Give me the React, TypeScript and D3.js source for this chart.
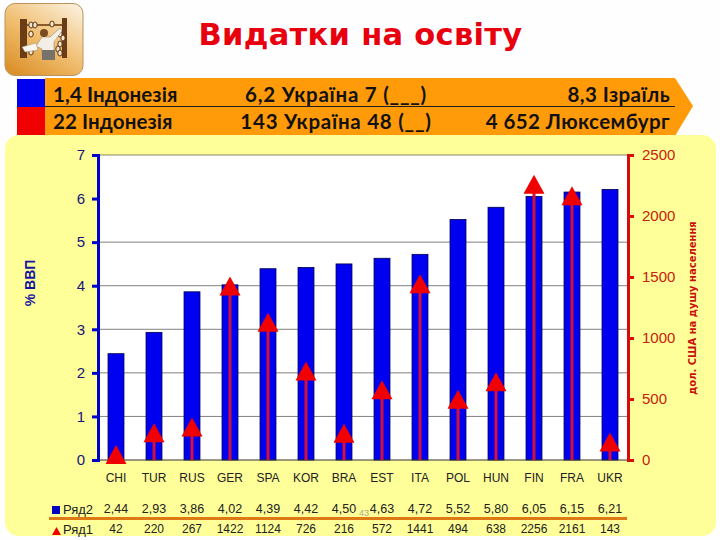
import React, { useEffect, useRef } from "react";
import * as d3 from "d3";

const countries = ["CHI", "TUR", "RUS", "GER", "SPA", "KOR", "BRA", "EST", "ITA", "POL", "HUN", "FIN", "FRA", "UKR"];
const gdpShare = [2.44, 2.93, 3.86, 4.02, 4.39, 4.42, 4.5, 4.63, 4.72, 5.52, 5.8, 6.05, 6.15, 6.21];
const perCapita = [42, 220, 267, 1422, 1124, 726, 216, 572, 1441, 494, 638, 2256, 2161, 143];
const leftTicks = [0, 1, 2, 3, 4, 5, 6, 7];
const gridTicks = [1, 2, 3, 4, 5, 7];
const rightTicks = [0, 500, 1000, 1500, 2000, 2500];
const bannerTop = ["1,4 Індонезія", "6,2 Україна 7 (___)", "8,3 Ізраїль"];
const bannerBottom = ["22 Індонезія", "143 Україна 48 (__)", "4 652 Люксембург"];

const comma = (v: number) => v.toFixed(2).replace(".", ",");

const App = () => {
  const ref = useRef<SVGSVGElement | null>(null);

  useEffect(() => {
    const svg = d3.select(ref.current);
    svg.selectAll("*").remove();
    const sans = "'Liberation Sans', Arial, sans-serif";
    const banner = "Lato, 'Noto Sans', sans-serif";

    const x = d3.scaleBand<string>().domain(countries).range([97, 629]).paddingInner(0.58).paddingOuter(0.29);
    const y = d3.scaleLinear().domain([0, 7]).range([460, 155]);
    const y2 = d3.scaleLinear().domain([0, 2500]).range([460, 155]);
    const cx = (c: string) => (x(c) ?? 0) + x.bandwidth() / 2;

    svg.append("rect").attr("width", 720).attr("height", 540).attr("fill", "#fefefe");

    // icon
    const defs = svg.append("defs");
    const grad = defs.append("linearGradient").attr("id", "icon").attr("x1", 0.9).attr("y1", 0).attr("x2", 0.2).attr("y2", 1);
    grad.append("stop").attr("offset", "0%").attr("stop-color", "#fbf0dc");
    grad.append("stop").attr("offset", "55%").attr("stop-color", "#f0bd6e");
    grad.append("stop").attr("offset", "100%").attr("stop-color", "#dc922c");
    svg.append("rect").attr("x", 5).attr("y", 3.5).attr("width", 78).attr("height", 72).attr("rx", 10)
      .attr("fill", "url(#icon)").attr("stroke", "#b9935c");
    const icon = svg.append("g");
    icon.append("rect").attr("x", 20).attr("y", 19).attr("width", 7).attr("height", 39).attr("fill", "#6b3d16");
    icon.append("rect").attr("x", 62).attr("y", 18).attr("width", 5).attr("height", 40).attr("fill", "#6b3d16");
    icon.append("rect").attr("x", 27).attr("y", 24).attr("width", 35).attr("height", 2).attr("fill", "#8a5a2a");
    [[31, 25], [35, 25], [52, 24], [31, 34], [31, 52], [60, 34], [63, 38], [60, 44], [58, 49], [60, 53]].forEach(([bx, by]) => {
      icon.append("ellipse").attr("cx", bx).attr("cy", by).attr("rx", 2.2).attr("ry", 3)
        .attr("fill", "#f4e6cc").attr("stroke", "#5a3212").attr("stroke-width", 1);
    });
    icon.append("path").attr("d", "M36,46L42,37L50,37L60,28L62,31L54,42L54,56H42L42,49Z").attr("fill", "#f3efe6").attr("stroke", "#8a7a66").attr("stroke-width", 0.5);
    icon.append("rect").attr("x", 42).attr("y", 50).attr("width", 13).attr("height", 10).attr("fill", "#77736c");
    icon.append("circle").attr("cx", 44).attr("cy", 33).attr("r", 4).attr("fill", "#7a4a20");
    icon.append("path").attr("d", "M22,47L36,43L38,50L25,52Z").attr("fill", "#faf7f0").attr("stroke", "#9a9080").attr("stroke-width", 0.5);

    svg.append("text").attr("x", 360.5).attr("y", 45).attr("text-anchor", "middle")
      .attr("font-family", "'DejaVu Sans', sans-serif").attr("font-weight", "bold").attr("font-size", 30.5)
      .attr("fill", "#e8000f").attr("letter-spacing", 0.3).text("Видатки на освіту");

    // orange banner
    svg.append("path").attr("d", "M45,78H675L693,106L675,136H45Z").attr("fill", "#ff9a08");
    svg.append("rect").attr("x", 17).attr("y", 79).attr("width", 28).attr("height", 28).attr("fill", "#0000ee");
    svg.append("rect").attr("x", 17).attr("y", 107).attr("width", 28).attr("height", 28).attr("fill", "#f00000");
    svg.append("line").attr("x1", 45).attr("x2", 675).attr("y1", 106.5).attr("y2", 106.5).attr("stroke", "#222");
    const bannerX = [53, 336, 670];
    const anchors = ["start", "middle", "end"];
    const spacing = [0.1, 0.75, 0.4];
    [bannerTop, bannerBottom].forEach((row, r) => {
      row.forEach((t, i) => {
        svg.append("text").attr("x", bannerX[i]).attr("y", r === 0 ? 101.5 : 129)
          .attr("text-anchor", anchors[i]).attr("font-family", banner).attr("font-weight", 700)
          .attr("font-size", 20.5).attr("letter-spacing", spacing[i]).attr("fill", "#111").text(t);
      });
    });

    // yellow panel
    svg.append("rect").attr("x", 5).attr("y", 135).attr("width", 711).attr("height", 401).attr("rx", 14).attr("fill", "#ffff99");

    // plot
    svg.append("rect").attr("x", 97).attr("y", 155).attr("width", 532).attr("height", 305).attr("fill", "#fff");
    svg.append("g").selectAll("line").data(gridTicks).join("line")
      .attr("x1", 97).attr("x2", 629).attr("y1", (d) => y(d)).attr("y2", (d) => y(d))
      .attr("stroke", (d) => (d === 7 ? "#85855f" : "#808080")).attr("stroke-width", 1);

    svg.append("g").selectAll("rect").data(countries).join("rect")
      .attr("x", (d) => x(d) ?? 0).attr("width", x.bandwidth())
      .attr("y", (_, i) => y(gdpShare[i])).attr("height", (_, i) => 460 - y(gdpShare[i]))
      .attr("fill", "#0000f0").attr("stroke", "#00004a").attr("stroke-width", 0.8);

    svg.append("line").attr("x1", 97).attr("x2", 629).attr("y1", 460).attr("y2", 460).attr("stroke", "#333");

    svg.append("g").selectAll("line").data(countries).join("line")
      .attr("x1", cx).attr("x2", cx).attr("y1", 460).attr("y2", (_, i) => y2(perCapita[i]))
      .attr("stroke", "#d4103c").attr("stroke-width", 3);

    svg.append("g").selectAll("path").data(countries).join("path")
      .attr("d", "M0,-10L10.5,9L-10.5,9Z").attr("fill", "#f00000")
      .attr("transform", (d, i) => `translate(${cx(d)},${y2(perCapita[i])})`);

    // left axis
    const leftAxis = svg.append("g").attr("transform", "translate(98,0)")
      .call(d3.axisLeft(y).tickValues(leftTicks).tickSize(6).tickFormat((d) => String(d)));
    leftAxis.selectAll("path,line").attr("stroke", "#0000c8").attr("stroke-width", 3);
    leftAxis.selectAll("text").attr("font-family", sans).attr("font-size", 15).attr("fill", "#14147a").attr("dx", -4);

    // right axis
    const rightAxis = svg.append("g").attr("transform", "translate(628,0)")
      .call(d3.axisRight(y2).tickValues(rightTicks).tickSize(6).tickFormat((d) => String(d)));
    rightAxis.selectAll("path,line").attr("stroke", "#d80a0a").attr("stroke-width", 3);
    rightAxis.selectAll("text").attr("font-family", sans).attr("font-size", 15).attr("fill", "#c8200c").attr("dx", 5);

    svg.append("text").attr("transform", "translate(35,283) rotate(-90)").attr("text-anchor", "middle")
      .attr("font-family", sans).attr("font-weight", "bold").attr("font-size", 14).attr("fill", "#1414a0").text("% ВВП");
    svg.append("text").attr("transform", "translate(696,308) rotate(-90)").attr("text-anchor", "middle")
      .attr("font-family", "'DejaVu Sans', sans-serif").attr("font-weight", "bold").attr("font-size", 10).attr("fill", "#c8100c")
      .text("дол. США на душу населення");

    // category labels and data table
    const labels = svg.append("g").attr("font-family", sans).attr("text-anchor", "middle").attr("fill", "#222");
    countries.forEach((c, i) => {
      labels.append("text").attr("x", cx(c)).attr("y", 482).attr("font-size", 12).text(c);
      labels.append("text").attr("x", cx(c)).attr("y", 513).attr("font-size", 12.5).text(comma(gdpShare[i]));
      labels.append("text").attr("x", cx(c)).attr("y", 533).attr("font-size", 12).text(perCapita[i]);
    });
    svg.append("line").attr("x1", 49).attr("x2", 627).attr("y1", 518.5).attr("y2", 518.5).attr("stroke", "#dd7a14").attr("stroke-width", 3);
    svg.append("rect").attr("x", 52).attr("y", 506).attr("width", 8).attr("height", 8).attr("fill", "#0000c0");
    svg.append("path").attr("d", "M56.5,527L61,535H52Z").attr("fill", "#f00000");
    svg.append("text").attr("x", 63).attr("y", 514).attr("font-family", sans).attr("font-size", 13).attr("fill", "#222").text("Ряд2");
    svg.append("text").attr("x", 63).attr("y", 534).attr("font-family", sans).attr("font-size", 13).attr("fill", "#222").text("Ряд1");
    svg.append("text").attr("x", 364).attr("y", 516).attr("text-anchor", "middle").attr("font-family", sans).attr("font-size", 9).attr("fill", "#a8a890").text("43");
  }, []);

  return <svg ref={ref} width={720} height={540} style={{ position: "absolute", left: 0, top: 0 }} />;
};

export default App;
